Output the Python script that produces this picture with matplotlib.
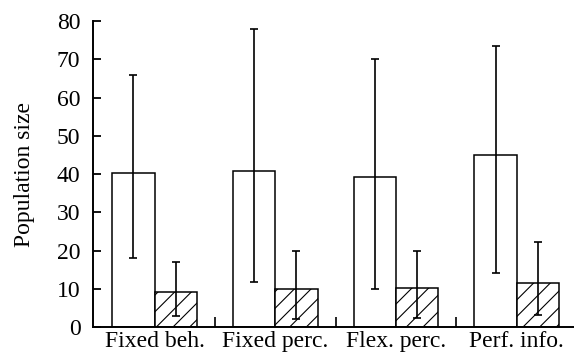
import numpy as np
import matplotlib
matplotlib.use("Agg")
import matplotlib.pyplot as plt

plt.rcParams['font.family'] = ['Liberation Serif', 'DejaVu Serif']
plt.rcParams['hatch.linewidth'] = 0.8

categories = ["Fixed beh.", "Fixed perc.", "Flex. perc.", "Perf. info."]
open_vals = [40.4, 40.9, 39.3, 44.9]
open_lo = [18.0, 11.8, 10.0, 14.0]
open_hi = [65.9, 77.9, 70.0, 73.4]
hatch_vals = [9.2, 10.0, 10.2, 11.6]
hatch_lo = [3.0, 2.0, 2.3, 3.2]
hatch_hi = [16.9, 19.9, 19.9, 22.1]

x = np.arange(len(categories))
w = 0.35

fig = plt.figure(figsize=(5.74, 3.57), dpi=100)
ax = fig.add_axes([0.162, 0.084, 0.838, 0.857])

open_err = [np.array(open_vals) - np.array(open_lo), np.array(open_hi) - np.array(open_vals)]
hatch_err = [np.array(hatch_vals) - np.array(hatch_lo), np.array(hatch_hi) - np.array(hatch_vals)]

ax.bar(x - w / 2, open_vals, w, color="white", edgecolor="black", lw=1.1,
       yerr=open_err, capsize=3, error_kw=dict(elinewidth=1.2, capthick=1.2, ecolor="black"))
ax.bar(x + w / 2, hatch_vals, w, color="white", edgecolor="black", lw=1.1, hatch="//",
       yerr=hatch_err, capsize=3, error_kw=dict(elinewidth=1.2, capthick=1.2, ecolor="black"))

ax.set_xlim(-0.51, 3.475)
ax.set_ylim(0, 80)
ax.set_yticks(np.arange(0, 81, 10))
ax.set_xticks(x)
ax.set_xticklabels(categories)
ax.set_xticks(x[:-1] + 0.5, minor=True)
ax.tick_params(axis='x', which='major', length=0, pad=3, labelsize=17)
ax.tick_params(axis='x', which='minor', direction='in', length=7, width=1.2)
ax.tick_params(axis='y', direction='in', length=6, width=1.3, pad=9, labelsize=17)

for s in ['top', 'right']:
    ax.spines[s].set_visible(False)
ax.spines['left'].set_linewidth(1.4)
ax.spines['bottom'].set_linewidth(1.4)

ax.set_ylabel("Population size", fontsize=17, labelpad=16)

plt.savefig("out.png", dpi=100)
